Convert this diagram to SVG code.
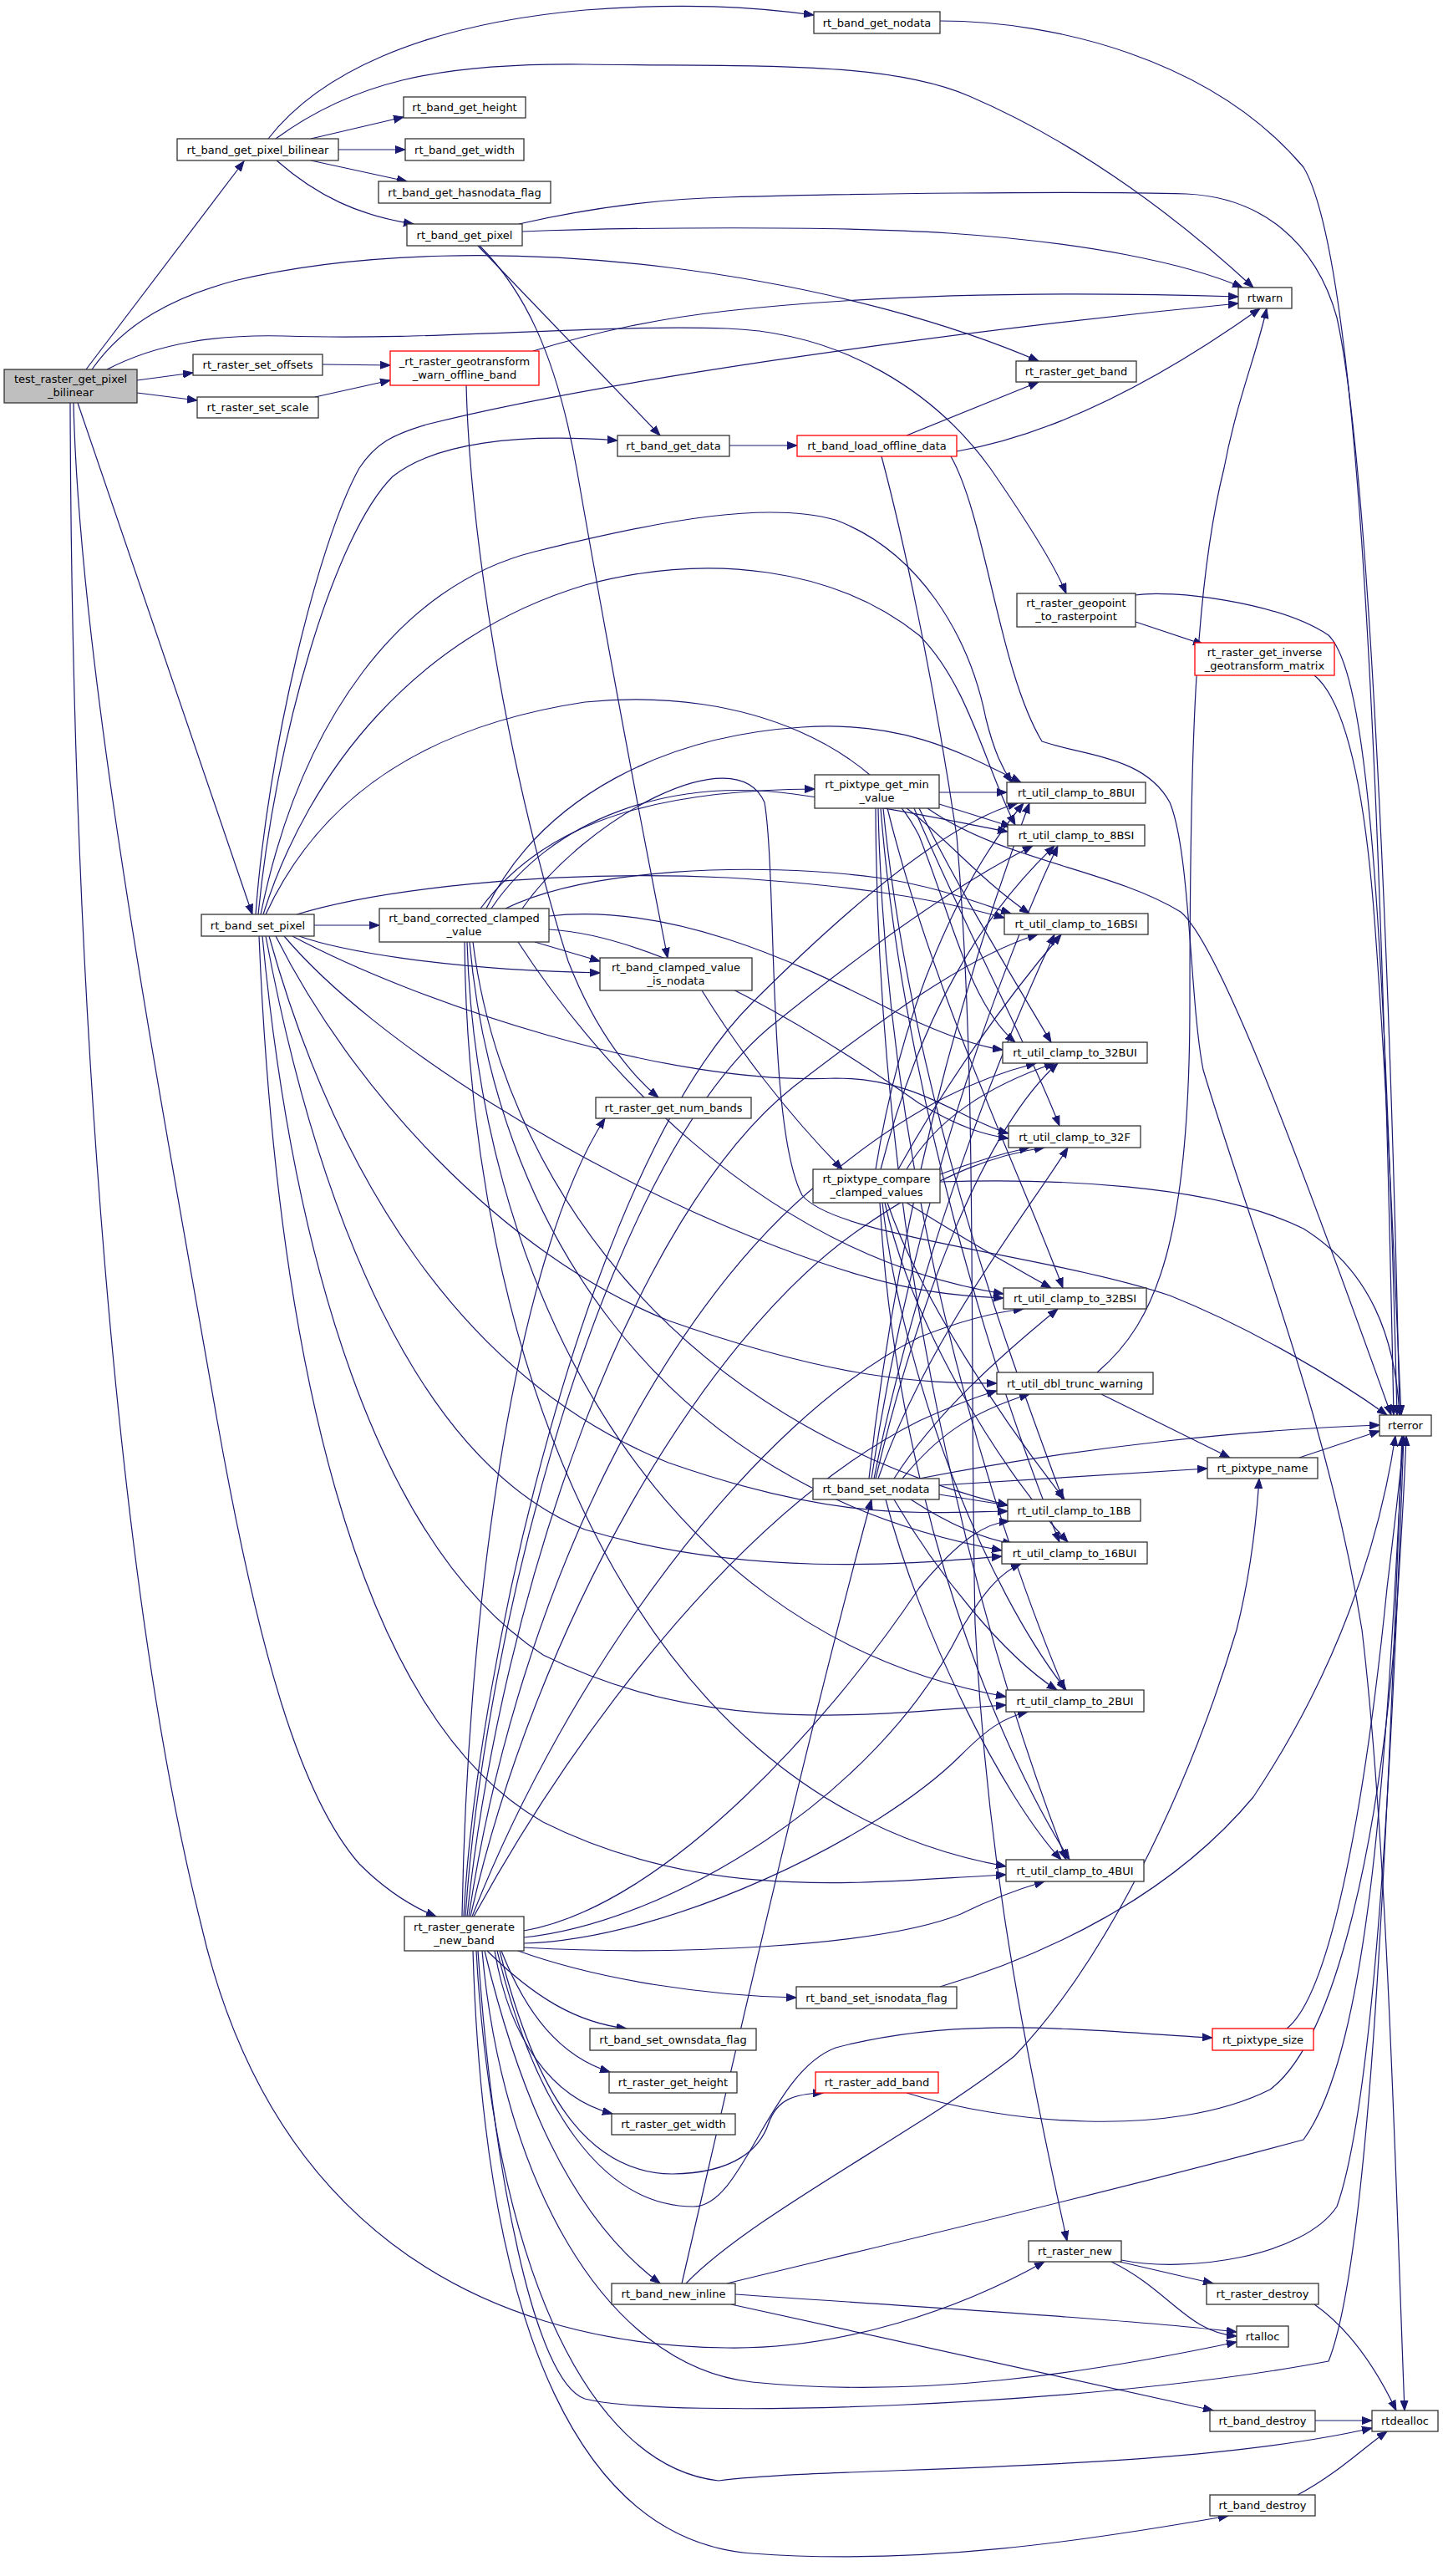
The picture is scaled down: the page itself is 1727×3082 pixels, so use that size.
<svg xmlns="http://www.w3.org/2000/svg" width="1727" height="3082" viewBox="0 0 1727 3082">
<style>
.n rect{fill:#fff;stroke:#333;stroke-width:1.3}
.r rect{stroke:#f00}
.g rect{fill:#bfbfbf}
text{font-family:"DejaVu Sans","Liberation Sans",sans-serif;font-size:13px;text-anchor:middle;fill:#000}
#edges path{fill:none;stroke:#191970;stroke-width:1.2;marker-end:url(#a)}
</style>
<defs>
<marker id="a" markerWidth="13" markerHeight="10" refX="12" refY="5" orient="auto" markerUnits="userSpaceOnUse"><path d="M0,0.5 L12,5 L0,9.5 z" fill="#191970" stroke="#191970" stroke-width="1"/></marker>
</defs>
<rect width="1727" height="3082" fill="#fff"/>
<g id="edges">
<path d="M103,442 L292,193"/>
<path d="M164,455 L231,446"/>
<path d="M164,470 L236,479"/>
<path d="M110,442 C150,385 210,355 280,336 C430,300 620,298 800,320 C1000,345 1150,392 1243,432"/>
<path d="M128,442 C190,410 260,400 340,402 C520,408 700,388 870,393 C1010,398 1120,470 1185,560 C1230,625 1262,675 1276,710"/>
<path d="M93,482 L302,1094"/>
<path d="M88,482 C95,800 190,1300 260,1700 C310,1980 360,2150 430,2230 C465,2265 495,2282 522,2293"/>
<path d="M84,482 C86,1200 140,1900 240,2300 C320,2650 560,2805 870,2809 C1010,2811 1150,2762 1250,2706"/>
<path d="M321,166 C380,90 500,30 700,12 C820,3 900,8 974,18"/>
<path d="M330,166 C420,100 520,75 700,77 C900,80 1060,72 1160,115 C1300,175 1420,270 1500,344"/>
<path d="M372,166 L483,140"/>
<path d="M405,179 L485,179"/>
<path d="M372,192 L487,217"/>
<path d="M331,192 C380,235 430,258 495,268"/>
<path d="M625,277 C750,272 1000,270 1136,279 C1300,290 1420,315 1487,344"/>
<path d="M621,268 C700,250 780,238 870,236 C1000,232 1300,228 1420,232 C1510,236 1575,290 1600,380 C1640,560 1665,1200 1675,1693"/>
<path d="M572,294 L790,521"/>
<path d="M574,294 C625,345 665,420 690,560 C725,760 770,1000 799,1146"/>
<path d="M386,436 L467,437"/>
<path d="M377,475 L467,455"/>
<path d="M638,420 C720,395 790,381 870,372 C1050,352 1250,348 1482,355"/>
<path d="M558,461 C562,620 600,900 680,1150 C715,1240 760,1290 788,1313"/>
<path d="M873,533 L954,533"/>
<path d="M1085,521 L1243,457"/>
<path d="M1145,540 C1260,520 1380,460 1508,369"/>
<path d="M1125,25 C1260,25 1450,70 1560,200 C1620,300 1650,800 1668,1693"/>
<path d="M1055,546 C1080,640 1115,800 1145,1000 C1170,1300 1160,1600 1167,1942 C1180,2200 1215,2400 1277,2681"/>
<path d="M1138,546 C1180,620 1195,800 1247,887 C1300,905 1370,905 1400,960 C1425,1020 1424,1200 1440,1280 C1500,1480 1590,1700 1630,1950 C1660,2200 1670,2600 1681,2884"/>
<path d="M1359,712 C1400,705 1530,720 1590,760 C1630,800 1655,1000 1672,1693"/>
<path d="M1359,744 L1440,771"/>
<path d="M1573,808 C1600,830 1630,900 1645,1100 C1660,1300 1668,1500 1677,1693"/>
<path d="M306,1094 C320,900 380,650 430,560 C450,530 470,520 510,508 C700,460 1100,400 1482,363"/>
<path d="M309,1094 C330,880 400,640 470,570 C520,530 620,518 739,527"/>
<path d="M376,1107 L454,1107"/>
<path d="M358,1120 C400,1135 520,1160 718,1164"/>
<path d="M312,1094 C360,860 480,700 640,660 C800,620 920,600 1000,622 C1100,660 1160,760 1180,860 C1190,900 1200,920 1211,936"/>
<path d="M315,1094 C370,920 500,760 700,700 C850,660 1000,680 1100,760 C1160,820 1180,920 1215,987"/>
<path d="M355,1094 C450,1065 650,1040 870,1050 C1000,1058 1100,1070 1202,1098"/>
<path d="M318,1094 C380,960 500,870 700,840 C900,820 1050,900 1100,1000 C1140,1100 1160,1200 1215,1247"/>
<path d="M350,1120 C500,1200 800,1300 1000,1290 C1100,1290 1150,1340 1207,1356"/>
<path d="M340,1120 C450,1250 700,1400 900,1480 C1050,1540 1120,1550 1201,1553"/>
<path d="M330,1120 C420,1300 600,1500 800,1580 C1000,1650 1100,1655 1193,1655"/>
<path d="M322,1120 C400,1400 550,1650 800,1750 C1000,1820 1100,1810 1206,1808"/>
<path d="M318,1120 C380,1450 500,1750 700,1830 C900,1890 1100,1870 1199,1862"/>
<path d="M314,1120 C350,1500 450,1850 650,1980 C850,2080 1050,2050 1204,2040"/>
<path d="M310,1120 C330,1600 420,2050 650,2180 C850,2280 1050,2250 1204,2243"/>
<path d="M640,1127 L718,1150"/>
<path d="M575,1087 C640,1000 750,945 975,944"/>
<path d="M582,1087 C650,950 800,880 960,870 C1080,862 1150,900 1222,936"/>
<path d="M588,1087 C660,980 800,930 950,950 C1080,968 1150,985 1206,995"/>
<path d="M605,1087 C700,1040 900,1030 1050,1050 C1120,1060 1170,1080 1210,1093"/>
<path d="M657,1096 C800,1080 950,1150 1050,1200 C1120,1235 1170,1252 1200,1256"/>
<path d="M657,1112 C800,1120 1000,1250 1100,1320 C1150,1350 1180,1358 1207,1362"/>
<path d="M620,1127 C700,1250 900,1500 1201,1548"/>
<path d="M566,1127 C600,1400 800,1700 1206,1801"/>
<path d="M562,1127 C590,1450 780,1780 1199,1855"/>
<path d="M559,1127 C570,1500 760,1950 1204,2030"/>
<path d="M556,1127 C560,1600 740,2150 1204,2233"/>
<path d="M625,1087 C700,980 880,880 915,960 C930,1050 918,1350 960,1430 C1000,1480 1250,1500 1400,1550 C1500,1590 1600,1650 1660,1693"/>
<path d="M840,1185 C880,1250 940,1330 1008,1399"/>
<path d="M1124,948 L1205,948"/>
<path d="M1124,962 L1210,989"/>
<path d="M1085,967 C1130,1000 1170,1050 1232,1093"/>
<path d="M1100,967 C1140,1050 1200,1150 1258,1247"/>
<path d="M1094,967 C1150,1100 1230,1250 1268,1347"/>
<path d="M1062,967 C1120,1200 1220,1400 1272,1541"/>
<path d="M1057,967 C1090,1300 1200,1600 1272,1794"/>
<path d="M1054,967 C1080,1300 1190,1650 1268,1845"/>
<path d="M1051,967 C1060,1400 1180,1800 1274,2022"/>
<path d="M1048,967 C1050,1500 1170,1950 1276,2225"/>
<path d="M1110,967 C1200,1030 1330,1040 1413,1091 C1460,1130 1560,1400 1665,1693"/>
<path d="M1048,1399 C1080,1200 1150,1050 1225,961"/>
<path d="M1054,1399 C1100,1220 1170,1100 1262,1012"/>
<path d="M1075,1399 C1130,1300 1200,1200 1270,1118"/>
<path d="M1085,1399 C1120,1340 1180,1300 1262,1272"/>
<path d="M1125,1405 C1160,1392 1200,1380 1232,1373"/>
<path d="M1085,1439 C1150,1480 1220,1520 1258,1541"/>
<path d="M1062,1439 C1100,1550 1200,1700 1274,1794"/>
<path d="M1059,1439 C1090,1580 1190,1750 1278,1845"/>
<path d="M1056,1439 C1080,1650 1180,1900 1276,2022"/>
<path d="M1053,1439 C1070,1750 1170,2050 1280,2225"/>
<path d="M1125,1414 C1250,1410 1450,1415 1560,1470 C1640,1520 1670,1600 1675,1693"/>
<path d="M1040,1769 C1080,1400 1180,1100 1232,961"/>
<path d="M1043,1769 C1090,1450 1200,1150 1266,1012"/>
<path d="M1046,1769 C1100,1500 1200,1250 1262,1118"/>
<path d="M1048,1769 C1100,1550 1180,1350 1266,1272"/>
<path d="M1051,1769 C1110,1600 1230,1450 1278,1373"/>
<path d="M1070,1769 C1120,1690 1200,1620 1266,1566"/>
<path d="M1080,1769 C1120,1720 1160,1690 1232,1668"/>
<path d="M1100,1769 C1300,1730 1500,1710 1651,1705"/>
<path d="M1124,1777 C1250,1770 1350,1762 1445,1757"/>
<path d="M1124,1788 L1206,1801"/>
<path d="M1090,1794 C1130,1820 1170,1840 1212,1847"/>
<path d="M1070,1794 C1120,1880 1200,1980 1265,2022"/>
<path d="M1060,1794 C1100,1950 1200,2150 1270,2225"/>
<path d="M1313,1642 C1385,1581 1424,1481 1424,1200 C1424,900 1430,700 1465,560 C1480,480 1505,420 1516,369"/>
<path d="M1318,1668 L1472,1744"/>
<path d="M1555,1744 L1651,1712"/>
<path d="M1540,2427 C1600,2380 1640,2100 1660,1900 C1672,1800 1678,1750 1680,1718"/>
<path d="M1085,2504 C1200,2540 1400,2560 1520,2500 C1600,2440 1650,2200 1670,1950 C1678,1830 1681,1770 1683,1718"/>
<path d="M555,2293 C570,2000 700,1400 900,1200 C1050,1050 1150,980 1218,961"/>
<path d="M557,2293 C580,1950 720,1400 920,1230 C1080,1100 1180,1040 1236,1012"/>
<path d="M559,2293 C600,1900 760,1450 950,1300 C1080,1200 1170,1140 1242,1118"/>
<path d="M561,2293 C620,1900 800,1550 1000,1400 C1100,1320 1170,1290 1240,1272"/>
<path d="M563,2293 C640,1950 840,1600 1030,1470 C1130,1400 1200,1380 1250,1373"/>
<path d="M565,2293 C680,2000 900,1700 1100,1600 C1150,1580 1190,1570 1225,1566"/>
<path d="M553,2293 C560,1900 620,1500 724,1338"/>
<path d="M567,2293 C700,2050 900,1800 1100,1700 C1140,1682 1165,1672 1193,1664"/>
<path d="M572,2334 C590,2600 640,2850 700,2870 C800,2895 1300,2880 1590,2825 C1640,2700 1660,2200 1678,1718"/>
<path d="M627,2310 C800,2280 1000,2050 1100,1900 C1150,1840 1180,1822 1208,1820"/>
<path d="M627,2318 C800,2300 1050,2150 1150,1950 C1180,1900 1200,1880 1222,1871"/>
<path d="M627,2325 C800,2320 1050,2200 1150,2100 C1180,2070 1200,2055 1230,2048"/>
<path d="M627,2330 C800,2340 1050,2330 1150,2290 C1190,2270 1220,2260 1250,2251"/>
<path d="M620,2334 C720,2370 850,2388 953,2390"/>
<path d="M583,2334 C640,2390 690,2420 750,2427"/>
<path d="M600,2334 C630,2410 670,2460 730,2479"/>
<path d="M592,2334 C610,2440 660,2510 733,2529"/>
<path d="M598,2334 C640,2500 700,2600 805,2601 C880,2600 910,2570 920,2540 C930,2512 950,2505 985,2504"/>
<path d="M595,2334 C640,2520 720,2640 830,2640 C890,2640 920,2480 1000,2450 C1150,2410 1300,2430 1451,2438"/>
<path d="M580,2334 C620,2500 680,2650 790,2732"/>
<path d="M577,2334 C600,2600 720,2830 900,2850 C1100,2870 1300,2840 1480,2802"/>
<path d="M570,2334 C590,2700 700,2950 860,2968 C1000,2950 1400,2960 1642,2905"/>
<path d="M566,2334 C580,2800 700,3040 900,3055 C1100,3070 1300,3040 1470,3010"/>
<path d="M1342,2704 C1420,2720 1560,2700 1600,2640 C1650,2500 1670,2000 1680,1718"/>
<path d="M1340,2706 L1452,2732"/>
<path d="M1330,2706 C1400,2740 1420,2790 1480,2795"/>
<path d="M1573,2757 C1620,2790 1650,2840 1671,2884"/>
<path d="M1574,2896 L1642,2896"/>
<path d="M1553,2985 C1600,2960 1630,2930 1660,2909"/>
<path d="M880,2745 C1100,2760 1350,2775 1480,2790"/>
<path d="M875,2757 L1452,2884"/>
<path d="M870,2732 C1000,2700 1300,2630 1560,2560 C1640,2450 1660,2100 1679,1718"/>
<path d="M816,2732 C870,2500 960,2100 1043,1794"/>
<path d="M821,2732 C900,2650 1100,2550 1214,2460 C1320,2350 1420,2150 1480,1950 C1500,1870 1505,1800 1507,1769"/>
<path d="M1125,2377 C1250,2340 1400,2270 1500,2150 C1600,2000 1650,1850 1670,1718"/>
</g>
<g id="n_test" class="n g"><rect x="5" y="442" width="159" height="40"/><text x="84.5" y="458">test_raster_get_pixel</text><text x="84.5" y="474">_bilinear</text></g>
<g id="n_gpb" class="n"><rect x="212" y="166" width="193" height="26"/><text x="308.5" y="183.5">rt_band_get_pixel_bilinear</text></g>
<g id="n_gh" class="n"><rect x="483" y="116" width="146" height="25"/><text x="556" y="133">rt_band_get_height</text></g>
<g id="n_gw" class="n"><rect x="485" y="166" width="142" height="26"/><text x="556" y="183.5">rt_band_get_width</text></g>
<g id="n_ghf" class="n"><rect x="453" y="217" width="206" height="26"/><text x="556" y="234.5">rt_band_get_hasnodata_flag</text></g>
<g id="n_gp" class="n"><rect x="487" y="268" width="138" height="26"/><text x="556" y="285.5">rt_band_get_pixel</text></g>
<g id="n_so" class="n"><rect x="231" y="424" width="155" height="25"/><text x="308.5" y="441">rt_raster_set_offsets</text></g>
<g id="n_ss" class="n"><rect x="236" y="475" width="145" height="25"/><text x="308.5" y="492">rt_raster_set_scale</text></g>
<g id="n_gwo" class="n r"><rect x="467" y="420" width="178" height="41"/><text x="556" y="437">_rt_raster_geotransform</text><text x="556" y="453">_warn_offline_band</text></g>
<g id="n_gd" class="n"><rect x="739" y="521" width="134" height="25"/><text x="806" y="538">rt_band_get_data</text></g>
<g id="n_gn" class="n"><rect x="974" y="14" width="151" height="26"/><text x="1049.5" y="31.5">rt_band_get_nodata</text></g>
<g id="n_rw" class="n"><rect x="1482" y="344" width="64" height="25"/><text x="1514" y="361">rtwarn</text></g>
<g id="n_rgb" class="n"><rect x="1216" y="432" width="144" height="25"/><text x="1288" y="449">rt_raster_get_band</text></g>
<g id="n_lod" class="n r"><rect x="954" y="521" width="191" height="25"/><text x="1049.5" y="538">rt_band_load_offline_data</text></g>
<g id="n_sp" class="n"><rect x="241" y="1094" width="135" height="26"/><text x="308.5" y="1111.5">rt_band_set_pixel</text></g>
<g id="n_ccv" class="n"><rect x="454" y="1087" width="203" height="40"/><text x="555.5" y="1103">rt_band_corrected_clamped</text><text x="555.5" y="1119">_value</text></g>
<g id="n_cvn" class="n"><rect x="718" y="1146" width="182" height="39"/><text x="809" y="1162">rt_band_clamped_value</text><text x="809" y="1178">_is_nodata</text></g>
<g id="n_gtr" class="n"><rect x="1217" y="710" width="142" height="40"/><text x="1288" y="726">rt_raster_geopoint</text><text x="1288" y="742">_to_rasterpoint</text></g>
<g id="n_igm" class="n r"><rect x="1430" y="769" width="167" height="39"/><text x="1513.5" y="785">rt_raster_get_inverse</text><text x="1513.5" y="801">_geotransform_matrix</text></g>
<g id="n_pmin" class="n"><rect x="975" y="927" width="149" height="40"/><text x="1049.5" y="943">rt_pixtype_get_min</text><text x="1049.5" y="959">_value</text></g>
<g id="n_c8bui" class="n"><rect x="1205" y="936" width="166" height="25"/><text x="1288" y="953">rt_util_clamp_to_8BUI</text></g>
<g id="n_c8bsi" class="n"><rect x="1206" y="987" width="164" height="25"/><text x="1288" y="1004">rt_util_clamp_to_8BSI</text></g>
<g id="n_c16bsi" class="n"><rect x="1202" y="1093" width="172" height="25"/><text x="1288" y="1110">rt_util_clamp_to_16BSI</text></g>
<g id="n_nb" class="n"><rect x="713" y="1313" width="186" height="25"/><text x="806" y="1330">rt_raster_get_num_bands</text></g>
<g id="n_c32bui" class="n"><rect x="1200" y="1247" width="173" height="25"/><text x="1286.5" y="1264">rt_util_clamp_to_32BUI</text></g>
<g id="n_c32f" class="n"><rect x="1207" y="1347" width="158" height="26"/><text x="1286" y="1364.5">rt_util_clamp_to_32F</text></g>
<g id="n_pcc" class="n"><rect x="973" y="1399" width="152" height="40"/><text x="1049" y="1415">rt_pixtype_compare</text><text x="1049" y="1431">_clamped_values</text></g>
<g id="n_c32bsi" class="n"><rect x="1201" y="1541" width="171" height="25"/><text x="1286.5" y="1558">rt_util_clamp_to_32BSI</text></g>
<g id="n_dtw" class="n"><rect x="1193" y="1642" width="187" height="26"/><text x="1286.5" y="1659.5">rt_util_dbl_trunc_warning</text></g>
<g id="n_re" class="n"><rect x="1651" y="1693" width="62" height="25"/><text x="1682" y="1710">rterror</text></g>
<g id="n_pn" class="n"><rect x="1445" y="1744" width="132" height="25"/><text x="1511" y="1761">rt_pixtype_name</text></g>
<g id="n_sn" class="n"><rect x="973" y="1769" width="151" height="25"/><text x="1048.5" y="1786">rt_band_set_nodata</text></g>
<g id="n_c1bb" class="n"><rect x="1206" y="1794" width="159" height="26"/><text x="1285.5" y="1811.5">rt_util_clamp_to_1BB</text></g>
<g id="n_c16bui" class="n"><rect x="1199" y="1845" width="174" height="26"/><text x="1286" y="1862.5">rt_util_clamp_to_16BUI</text></g>
<g id="n_c2bui" class="n"><rect x="1204" y="2022" width="165" height="26"/><text x="1286.5" y="2039.5">rt_util_clamp_to_2BUI</text></g>
<g id="n_c4bui" class="n"><rect x="1204" y="2225" width="165" height="26"/><text x="1286.5" y="2242.5">rt_util_clamp_to_4BUI</text></g>
<g id="n_gnb" class="n"><rect x="484" y="2293" width="143" height="41"/><text x="555.5" y="2310">rt_raster_generate</text><text x="555.5" y="2326">_new_band</text></g>
<g id="n_sif" class="n"><rect x="953" y="2377" width="192" height="26"/><text x="1049" y="2394.5">rt_band_set_isnodata_flag</text></g>
<g id="n_sof" class="n"><rect x="706" y="2427" width="199" height="26"/><text x="805.5" y="2444.5">rt_band_set_ownsdata_flag</text></g>
<g id="n_ps" class="n r"><rect x="1451" y="2427" width="121" height="26"/><text x="1511.5" y="2444.5">rt_pixtype_size</text></g>
<g id="n_rgh" class="n"><rect x="729" y="2479" width="153" height="25"/><text x="805.5" y="2496">rt_raster_get_height</text></g>
<g id="n_rab" class="n r"><rect x="976" y="2479" width="147" height="25"/><text x="1049.5" y="2496">rt_raster_add_band</text></g>
<g id="n_rgw" class="n"><rect x="732" y="2529" width="148" height="25"/><text x="806" y="2546">rt_raster_get_width</text></g>
<g id="n_rn" class="n"><rect x="1231" y="2681" width="111" height="25"/><text x="1286.5" y="2698">rt_raster_new</text></g>
<g id="n_bni" class="n"><rect x="732" y="2732" width="148" height="25"/><text x="806" y="2749">rt_band_new_inline</text></g>
<g id="n_rd" class="n"><rect x="1444" y="2732" width="134" height="25"/><text x="1511" y="2749">rt_raster_destroy</text></g>
<g id="n_ra" class="n"><rect x="1480" y="2783" width="62" height="25"/><text x="1511" y="2800">rtalloc</text></g>
<g id="n_bd1" class="n"><rect x="1448" y="2884" width="126" height="25"/><text x="1511" y="2901">rt_band_destroy</text></g>
<g id="n_rda" class="n"><rect x="1642" y="2884" width="79" height="25"/><text x="1681.5" y="2901">rtdealloc</text></g>
<g id="n_bd2" class="n"><rect x="1448" y="2985" width="126" height="25"/><text x="1511" y="3002">rt_band_destroy</text></g>
</svg>
